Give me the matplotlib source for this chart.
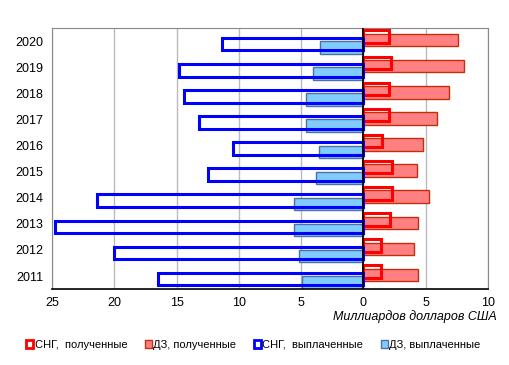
import matplotlib
matplotlib.use("Agg")
import matplotlib.pyplot as plt
import numpy as np
from matplotlib.patches import Patch

plt.rcParams['font.family'] = ['Liberation Sans', 'DejaVu Sans']

years = ["2020", "2019", "2018", "2017", "2016", "2015", "2014", "2013", "2012", "2011"]
cis_received = [2.07, 2.17, 2.07, 2.07, 1.5, 2.25, 2.25, 2.1, 1.37, 1.37]
fc_received = [7.56, 8.04, 6.9, 5.9, 4.77, 4.26, 5.23, 4.34, 4.02, 4.34]
cis_paid = [11.35, 14.8, 14.4, 13.2, 10.5, 12.45, 21.4, 24.8, 20.0, 16.5]
fc_paid = [3.5, 4.05, 4.6, 4.6, 3.57, 3.8, 5.6, 5.6, 5.2, 4.96]
xticks = [-25, -20, -15, -10, -5, 0, 5, 10]
xtick_labels = ["25", "20", "15", "10", "5", "0", "5", "10"]

fig = plt.figure(figsize=(5.10, 3.65), dpi=100)
ax = fig.add_axes([0.102, 0.208, 0.855, 0.715])

y = np.arange(len(years))
h = 0.48

ax.barh(y - 0.04, fc_received, height=h, color='#FF8080', edgecolor='#C03010', linewidth=1.0, zorder=2)
ax.barh(y + 0.24, [-v for v in fc_paid], height=h, color='#80CCFF', edgecolor='#5070A0', linewidth=1.0, zorder=2)
ax.barh(y - 0.17, cis_received, height=h, facecolor='none', edgecolor='#FF0000', linewidth=2.2, zorder=3)
ax.barh(y + 0.115, [-v for v in cis_paid], height=h, facecolor='none', edgecolor='#0000FF', linewidth=2.2, zorder=3)

ax.axvline(0, color='black', linewidth=1.2, zorder=4)

ax.set_xlim(-25, 10)
ax.set_ylim(len(years) - 0.5, -0.5)
ax.set_yticks(y)
ax.set_yticklabels(years, fontsize=9)
ax.set_xticks(xticks)
ax.set_xticklabels(xtick_labels, fontsize=9)
ax.tick_params(axis='both', length=0, pad=6)
ax.xaxis.grid(True, color='#BBBBBB', linewidth=1.0, zorder=0)
ax.set_axisbelow(True)
for s in ['left', 'top', 'right']:
    ax.spines[s].set_color('#888888')
ax.spines['bottom'].set_color('black')
ax.spines['bottom'].set_linewidth(1.2)

fig.text(0.975, 0.134, "Миллиардов долларов США", fontsize=9, style='italic', ha='right', va='center')

handles = [
    Patch(facecolor='none', edgecolor='#FF0000', linewidth=2.0, label="СНГ,  полученные"),
    Patch(facecolor='#FF8080', edgecolor='#C03010', linewidth=1.0, label="ДЗ, полученные"),
    Patch(facecolor='none', edgecolor='#0000FF', linewidth=2.0, label="СНГ,  выплаченные"),
    Patch(facecolor='#80CCFF', edgecolor='#5070A0', linewidth=1.0, label="ДЗ, выплаченные"),
]
fig.legend(handles=handles, loc='center', bbox_to_anchor=(0.497, 0.055), ncol=4, frameon=False,
           fontsize=8, handlelength=0.6, handleheight=0.6, handletextpad=0.15, columnspacing=1.6)

fig.savefig("out.png", dpi=100)
